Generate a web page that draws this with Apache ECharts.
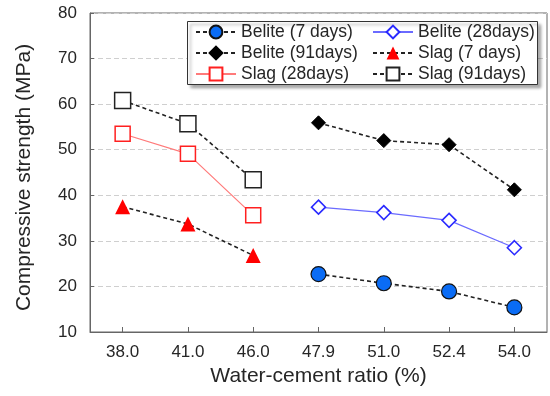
<!DOCTYPE html>
<html>
<head>
<meta charset="utf-8">
<script src="https://cdn.jsdelivr.net/npm/echarts@6/dist/echarts.min.js"></script>
<style>html,body{margin:0;padding:0;background:#fff}#c{width:550px;height:396px}</style>
</head>
<body>
<div id="c"></div>
<script>
var categories = ['38.0', '41.0', '46.0', '47.9', '51.0', '52.4', '54.0'];
var beliteDays7  = [null, null, null, 22.7, 20.7, 18.9, 15.4];
var beliteDays28 = [null, null, null, 37.4, 36.2, 34.5, 28.5];
var beliteDays91 = [null, null, null, 55.9, 52.0, 51.1, 41.2];
var slagDays7    = [37.5, 33.7, 26.8, null, null, null, null];
var slagDays28   = [53.5, 49.1, 35.6, null, null, null, null];
var slagDays91   = [60.8, 55.7, 43.4, null, null, null, null];
var yTicks = [10, 20, 30, 40, 50, 60, 70, 80];

var FONT = '"Liberation Sans", Arial, sans-serif';
var TXT = '#262626';
var dash = [4, 3];

var chart = echarts.init(document.getElementById('c'), null, {renderer: 'canvas'});
var legendText = {fontFamily: FONT, fontSize: 17.5, color: TXT, lineHeight: 18};

chart.setOption({
  animation: false,
  backgroundColor: '#fff',
  grid: {left: 90, right: 3, top: 13, bottom: 64, show: true, borderColor: '#666', borderWidth: 1, containLabel: false},
  xAxis: {
    type: 'category',
    data: categories,
    boundaryGap: true,
    name: 'Water-cement ratio (%)',
    nameLocation: 'middle',
    nameGap: 34,
    nameTextStyle: {fontFamily: FONT, fontSize: 21, color: TXT},
    axisLine: {lineStyle: {color: '#666', width: 1}},
    axisTick: {show: true, inside: true, alignWithLabel: true, length: 5, lineStyle: {color: '#666'}},
    axisLabel: {fontFamily: FONT, fontSize: 17, color: TXT, margin: 12},
    splitLine: {show: false}
  },
  yAxis: {
    type: 'value',
    min: yTicks[0],
    max: yTicks[yTicks.length - 1],
    interval: 10,
    name: 'Compressive strength (MPa)',
    nameLocation: 'middle',
    nameGap: 55,
    nameTextStyle: {fontFamily: FONT, fontSize: 21, color: TXT, padding: [0, 10, 0, 0]},
    axisLine: {show: true, lineStyle: {color: '#666', width: 1}},
    axisTick: {show: true, inside: true, length: 4, lineStyle: {color: '#666'}},
    axisLabel: {fontFamily: FONT, fontSize: 17, color: TXT, margin: 13},
    splitLine: {show: true, lineStyle: {color: '#cfcfcf', type: [5, 3], width: 1}}
  },
  graphic: [{
    type: 'rect',
    z: 3,
    shape: {x: 187.5, y: 21.5, width: 350, height: 63},
    style: {fill: '#fff', stroke: '#333', lineWidth: 1, shadowBlur: 3, shadowOffsetX: 3, shadowOffsetY: 3, shadowColor: 'rgba(0,0,0,0.35)'}
  }],
  legend: [{
    orient: 'vertical', left: 195, top: 23, padding: 0, itemGap: 3, itemWidth: 40, itemHeight: 16, z: 10,
    textStyle: legendText,
    data: ['Belite (7 days)', 'Belite (91days)', 'Slag (28days)']
  }, {
    orient: 'vertical', left: 372, top: 23, padding: 0, itemGap: 3, itemWidth: 40, itemHeight: 16, z: 10,
    textStyle: legendText,
    data: ['Belite (28days)', 'Slag (7 days)', 'Slag (91days)']
  }],
  series: [{
    name: 'Belite (7 days)', type: 'line', data: beliteDays7,
    symbol: 'circle', symbolSize: 15,
    itemStyle: {color: '#0a6cf5', borderColor: '#111', borderWidth: 1.2},
    lineStyle: {color: '#222', width: 1.6, type: dash}, z: 5
  }, {
    name: 'Belite (28days)', type: 'line', data: beliteDays28,
    symbol: 'diamond', symbolSize: 14,
    itemStyle: {color: '#fff', borderColor: '#2a2aff', borderWidth: 1.6},
    lineStyle: {color: '#6b6bff', width: 1.2, type: 'solid'}, z: 4
  }, {
    name: 'Belite (91days)', type: 'line', data: beliteDays91,
    symbol: 'diamond', symbolSize: 14,
    itemStyle: {color: '#000', borderColor: '#000', borderWidth: 1},
    lineStyle: {color: '#222', width: 1.6, type: dash}, z: 4
  }, {
    name: 'Slag (7 days)', type: 'line', data: slagDays7,
    symbol: 'triangle', symbolSize: 15,
    itemStyle: {color: '#ff0000', borderColor: '#ff0000', borderWidth: 0},
    lineStyle: {color: '#222', width: 1.6, type: dash}, z: 4
  }, {
    name: 'Slag (28days)', type: 'line', data: slagDays28,
    symbol: 'rect', symbolSize: 15,
    itemStyle: {color: '#fff', borderColor: '#ff2020', borderWidth: 1.5},
    lineStyle: {color: '#ff7a7a', width: 1.2, type: 'solid'}, z: 4
  }, {
    name: 'Slag (91days)', type: 'line', data: slagDays91,
    symbol: 'rect', symbolSize: 16,
    itemStyle: {color: '#fff', borderColor: '#222', borderWidth: 1.5},
    lineStyle: {color: '#222', width: 1.6, type: dash}, z: 4
  }]
});
</script>
</body>
</html>
